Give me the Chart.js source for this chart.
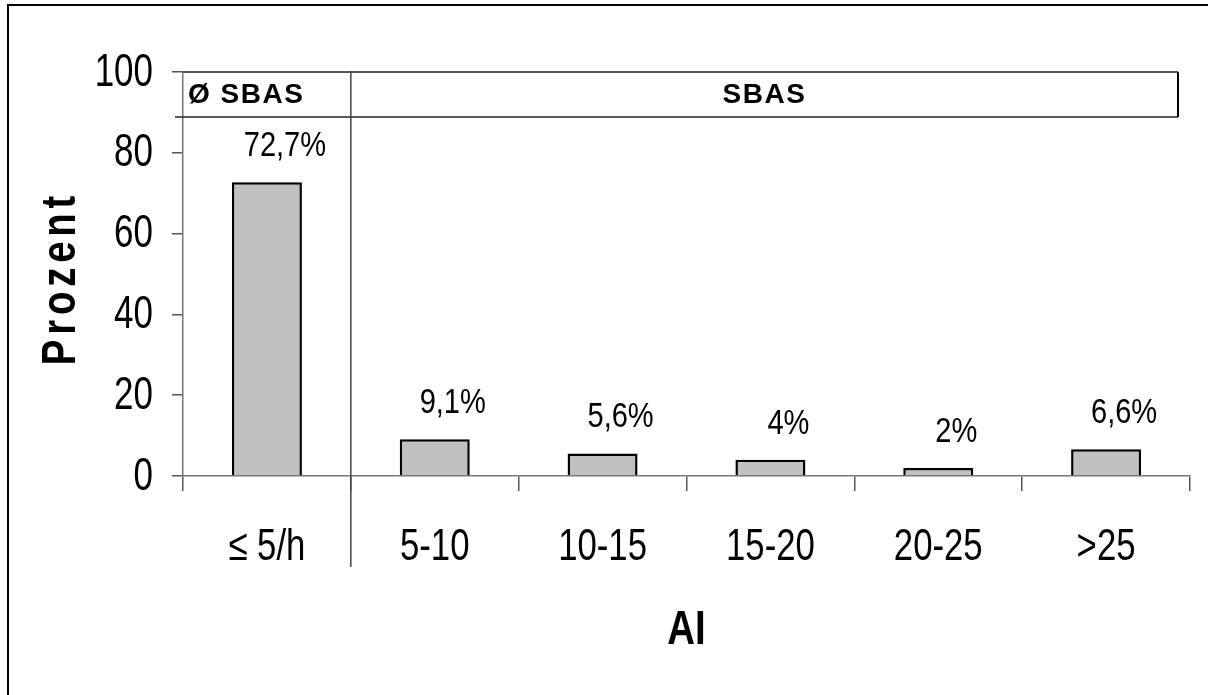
<!DOCTYPE html>
<html>
<head>
<meta charset="utf-8">
<script src="https://cdn.jsdelivr.net/npm/chart.js@4"></script>
<style>
  html, body { margin: 0; padding: 0; background: #fff; }
  #wrap { width: 1208px; height: 695px; position: relative; }
</style>
</head>
<body>
<div id="wrap"><canvas id="c" width="1208" height="695"></canvas></div>
<script>
// Share of recordings per arousal index (AI) class
const categories = ['≤ 5/h', '5-10', '10-15', '15-20', '20-25', '>25'];
const percentValues = [72.7, 9.1, 5.6, 4, 2, 6.6];
const yTicks = [0, 20, 40, 60, 80, 100];
const groupLabels = ['Ø SBAS', 'SBAS'];
const xTitle = 'AI';
const yTitle = 'Prozent';

// German decimal comma for the value labels
const valueLabels = percentValues.map(v => String(v).replace('.', ',') + '%');

const SANS = '"Liberation Sans", Arial, Helvetica, sans-serif';

// Draws text squeezed horizontally to get a narrow typeface look
function narrowText(ctx, text, x, y, opts) {
  ctx.save();
  ctx.font = opts.font;
  ctx.textAlign = opts.align || 'center';
  ctx.textBaseline = opts.baseline || 'middle';
  ctx.letterSpacing = opts.spacing || '0px';
  ctx.fillStyle = '#000';
  ctx.translate(x, y);
  if (opts.rotate) ctx.rotate(opts.rotate);
  ctx.scale(opts.sx, 1);
  ctx.fillText(text, 0, 0);
  ctx.restore();
}

const decorations = {
  id: 'decorations',
  beforeDraw(chart) {
    const ctx = chart.ctx;
    ctx.save();
    ctx.fillStyle = '#fff';
    ctx.fillRect(0, 0, chart.width, chart.height);
    // outer frame (left and top edges)
    ctx.strokeStyle = '#000';
    ctx.lineWidth = 2;
    ctx.beginPath();
    ctx.moveTo(8, chart.height);
    ctx.lineTo(8, 5);
    ctx.lineTo(chart.width, 5);
    ctx.stroke();
    ctx.restore();
  },
  afterDraw(chart) {
    const ctx = chart.ctx;
    const xs = chart.scales.x, ys = chart.scales.y;
    const area = chart.chartArea;
    const sepX = (xs.getPixelForValue(0) + xs.getPixelForValue(1)) / 2;
    const boxTop = ys.getPixelForValue(100);
    const boxBottom = boxTop + 45;
    const boxRight = area.right - 12;

    ctx.save();
    // group header boxes
    ctx.strokeStyle = '#555';
    ctx.lineWidth = 2;
    ctx.beginPath();
    ctx.moveTo(area.left, boxTop);
    ctx.lineTo(boxRight, boxTop);
    ctx.stroke();
    ctx.strokeStyle = '#222';
    ctx.lineWidth = 1.5;
    ctx.beginPath();
    ctx.moveTo(area.left - 8, boxBottom);
    ctx.lineTo(boxRight, boxBottom);
    ctx.stroke();
    ctx.strokeStyle = '#000';
    ctx.lineWidth = 2;
    ctx.beginPath();
    ctx.moveTo(boxRight, boxTop);
    ctx.lineTo(boxRight, boxBottom);
    ctx.stroke();

    // separator between the two groups
    ctx.strokeStyle = '#444';
    ctx.lineWidth = 1.5;
    ctx.beginPath();
    ctx.moveTo(sepX, boxTop - 1);
    ctx.lineTo(sepX, area.bottom + 91);
    ctx.stroke();

    // header texts
    ctx.fillStyle = '#000';
    ctx.font = 'bold 28px ' + SANS;
    ctx.letterSpacing = '1.5px';
    ctx.textBaseline = 'middle';
    ctx.textAlign = 'left';
    ctx.fillText(groupLabels[0], area.left + 5, (boxTop + boxBottom) / 2 + 1);
    ctx.textAlign = 'center';
    ctx.fillText(groupLabels[1], (sepX + boxRight) / 2, (boxTop + boxBottom) / 2 + 1);
    ctx.restore();

    // y tick labels
    ys.ticks.forEach(t => {
      narrowText(ctx, String(t.value), area.left - 30, ys.getPixelForValue(t.value) + 1,
        { font: '46px ' + SANS, align: 'right', sx: 0.76 });
    });
    // category labels
    categories.forEach((c, i) => {
      narrowText(ctx, c, xs.getPixelForValue(i), area.bottom + 72,
        { font: '44px ' + SANS, align: 'center', sx: 0.79 });
    });

    // value labels above the bars
    const meta = chart.getDatasetMeta(0);
    meta.data.forEach((bar, i) => {
      narrowText(ctx, valueLabels[i], bar.x + 18, bar.y - 26,
        { font: '35px ' + SANS, align: 'center', baseline: 'alphabetic', sx: 0.83 });
    });

    // axis titles
    narrowText(ctx, xTitle, (area.left + area.right) / 2, 631,
      { font: 'bold 48px ' + SANS, align: 'center', sx: 0.8 });
    narrowText(ctx, yTitle, 62, 278,
      { font: 'bold 48px ' + SANS, align: 'center', sx: 0.8, spacing: '6px', rotate: -Math.PI / 2 });
  }
};

new Chart(document.getElementById('c').getContext('2d'), {
  type: 'bar',
  data: {
    labels: categories,
    datasets: [{
      data: percentValues,
      backgroundColor: '#c0c0c0',
      borderColor: '#000',
      borderWidth: 2.5,
      borderSkipped: 'start',
      categoryPercentage: 1,
      barPercentage: 0.417
    }]
  },
  options: {
    responsive: false,
    animation: false,
    devicePixelRatio: 1,
    layout: { padding: { top: 72, right: 18, left: 0, bottom: 0 } },
    plugins: { legend: { display: false }, tooltip: { enabled: false } },
    scales: {
      x: {
        grid: { display: true, drawOnChartArea: false, drawTicks: true, tickLength: 15, color: '#555', lineWidth: 1.5 },
        border: { display: true, color: '#777', width: 1.5 },
        ticks: { display: false, autoSkip: false },
        afterFit(s) { s.height = 219; }
      },
      y: {
        min: 0,
        max: 100,
        afterBuildTicks(s) { s.ticks = yTicks.map(v => ({ value: v })); },
        ticks: { display: false },
        grid: { drawOnChartArea: false, tickLength: 11, color: '#555', lineWidth: 1.5 },
        border: { display: true, color: '#777', width: 1.5 },
        afterFit(s) { s.width = 183; }
      }
    }
  },
  plugins: [decorations]
});
</script>
</body>
</html>
